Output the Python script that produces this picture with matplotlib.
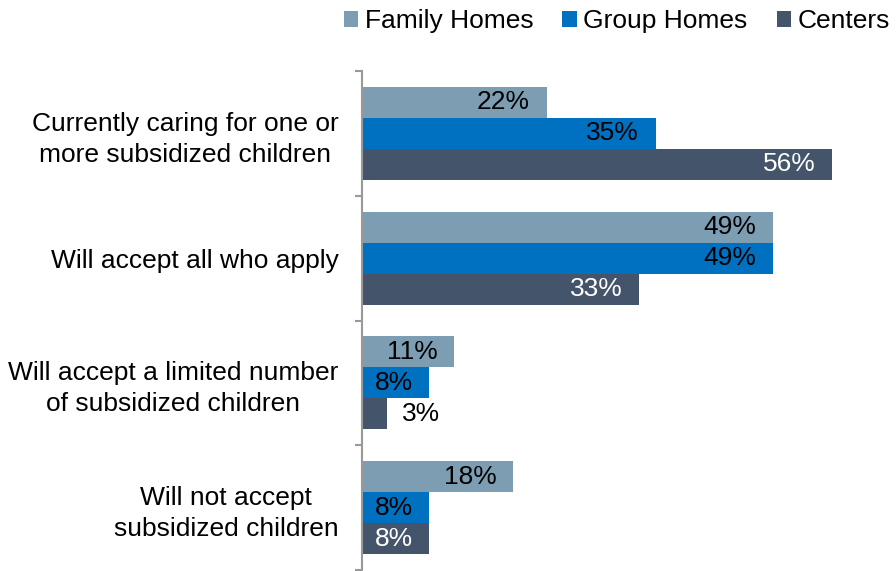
import matplotlib.pyplot as plt
import numpy as np

plt.rcParams['font.family'] = ['Liberation Sans', 'DejaVu Sans']

categories = [
    "Currently caring for one or\nmore subsidized children",
    "Will accept all who apply",
    "Will accept a limited number\nof subsidized children",
    "Will not accept\nsubsidized children",
]
series_names = ["Family Homes", "Group Homes", "Centers"]
family_homes = [22, 49, 11, 18]
group_homes = [35, 49, 8, 8]
centers = [56, 33, 3, 8]

colors = ["#7C9DB2", "#0070C0", "#44546A"]
text_colors = ["black", "black", "white"]

fig = plt.figure(figsize=(8.96, 5.71), dpi=100)
ax = fig.add_axes([362 / 896, 1 / 571, 534 / 896, 499 / 571])

y = np.arange(len(categories))
bar_h = 0.248
offsets = [-bar_h, 0, bar_h]

for vals, name, off, col, tcol in zip([family_homes, group_homes, centers],
                                      series_names, offsets, colors, text_colors):
    bars = ax.barh(y + off, vals, height=bar_h, color=col, label=name)
    for b, v in zip(bars, vals):
        yc = b.get_y() + b.get_height() / 2
        if v < 5:
            ax.annotate(f"{v}%", xy=(v, yc), xytext=(11, 0), textcoords="offset points",
                        ha="left", va="center", fontsize=19, color="black")
        else:
            ax.annotate(f"{v}%", xy=(v, yc), xytext=(-12, 0), textcoords="offset points",
                        ha="right", va="center", fontsize=19, color=tcol)

ax.set_xlim(0, 63.6)
ax.set_ylim(len(categories) - 0.5, -0.5)
ax.set_xticks([])
ax.set_yticks(y)
ax.set_yticklabels(categories, fontsize=19, linespacing=1.35, multialignment="center")
ax.set_yticks(np.arange(-0.5, len(categories), 1), minor=True)
ax.tick_params(axis="y", which="major", length=0, pad=17)
ax.tick_params(axis="y", which="minor", length=5, width=1.5, color="#999999", direction="out")

for s in ["top", "right", "bottom"]:
    ax.spines[s].set_visible(False)
ax.spines["left"].set_color("#999999")
ax.spines["left"].set_linewidth(1.5)

fig.legend(loc="upper right", bbox_to_anchor=(1.02, 1.025), ncol=3, frameon=False,
           fontsize=19, handlelength=0.55, handleheight=0.55, handletextpad=0.25,
           columnspacing=1.1)

fig.savefig("out.png", dpi=100)
